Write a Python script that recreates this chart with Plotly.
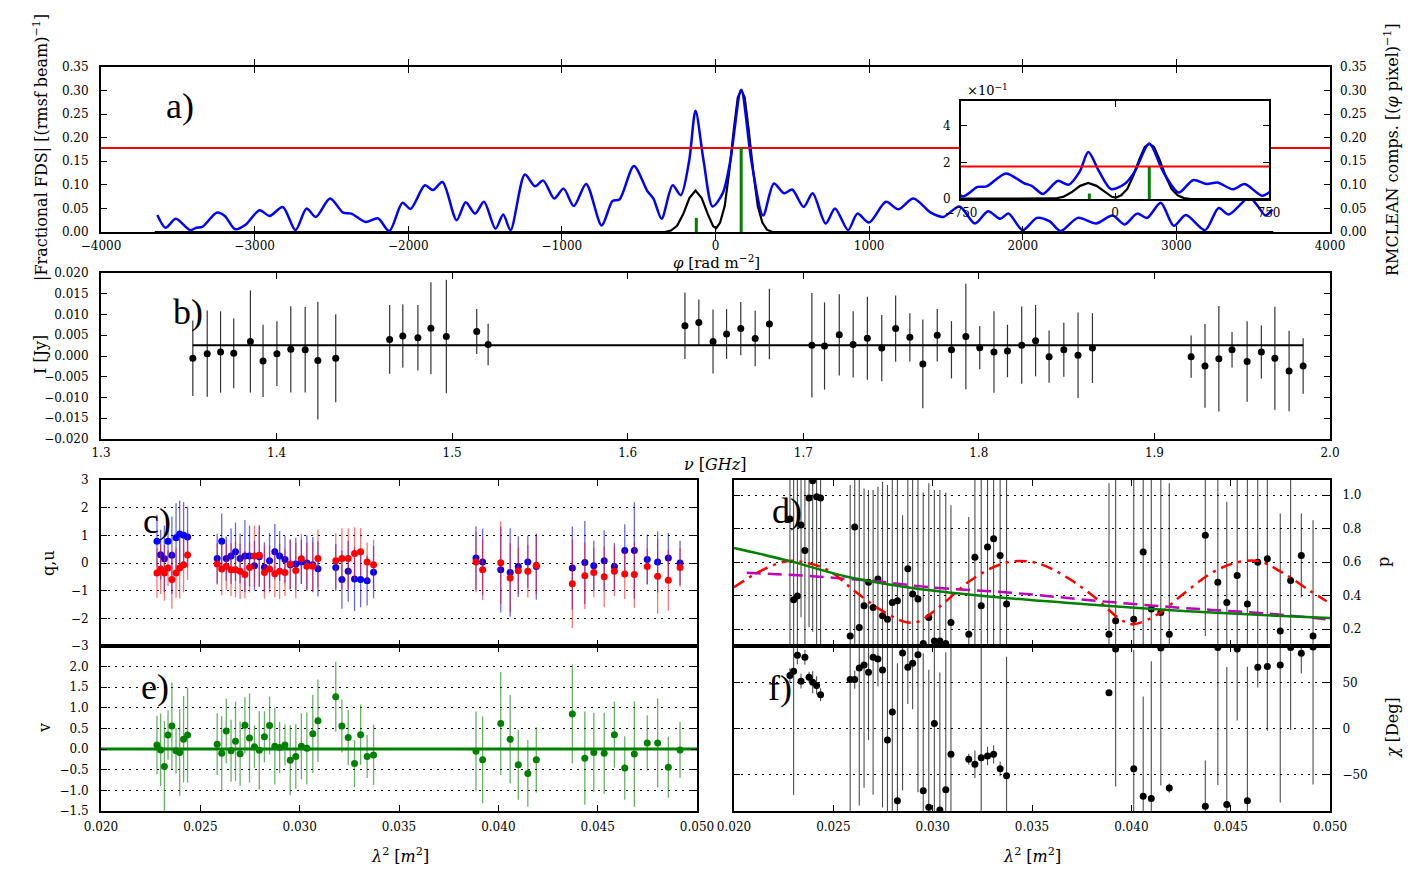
import plotly.graph_objects as go

FONT = "DejaVu Serif"
LETTER_FONT = "Liberation Serif"
# The page shows the figure with an 8 px body margin, so the figure is 8 px
# smaller than the window and all reference pixel positions are shifted by 8.
OFF = 8
W, H = 1419 - OFF, 869 - OFF

# ---------------- a) Faraday dispersion function ----------------
phi_fds = [-3633, -3580, -3513, -3420, -3380, -3340, -3247, -3194, -3128, -3061,
           -2968, -2902, -2817, -2734, -2662, -2602, -2509, -2424, -2370, -2277,
           -2198, -2123, -2038, -1985, -1892, -1839, -1777, -1685, -1626, -1565,
           -1507, -1432, -1382, -1334, -1241, -1175, -1121, -1050, -989, -922,
           -842, -741, -670, -625, -531, -444, -404, -351, -279, -226,
           -172, -130, -77, -19, 48, 96, 167, 234, 310, 380,
           446, 499, 574, 632, 717, 778, 863, 924, 999, 1110,
           1190, 1288, 1402, 1482, 1588, 1689, 1774, 1854, 1907, 2000,
           2093, 2173, 2247, 2359, 2478, 2584, 2664, 2744, 2810, 2898,
           2983, 3062, 3187, 3275, 3341, 3474, 3530, 3580, 3625]
fds_amp = [0.036, 0.009, 0.028, 0.004, 0.009, 0.011, 0.041, 0.034, 0.006, 0.015,
           0.046, 0.034, 0.053, 0.004, 0.050, 0.032, 0.071, 0.041, 0.039, 0.021,
           0.029, 0.002, 0.062, 0.049, 0.099, 0.089, 0.106, 0.025, 0.063, 0.039,
           0.064, 0.007, 0.037, 0.004, 0.122, 0.097, 0.109, 0.071, 0.092, 0.055,
           0.102, 0.014, 0.066, 0.069, 0.140, 0.087, 0.071, 0.028, 0.099, 0.078,
           0.150, 0.257, 0.150, 0.054, 0.083, 0.150, 0.302, 0.150, 0.035, 0.103,
           0.082, 0.090, 0.053, 0.082, 0.018, 0.050, 0.004, 0.039, 0.020, 0.064,
           0.048, 0.071, 0.041, 0.032, 0.054, 0.018, 0.044, 0.028, 0.039, 0.004,
           0.030, 0.023, 0.002, 0.030, 0.018, 0.035, 0.016, 0.039, 0.030, 0.062,
           0.013, 0.036, 0.004, 0.051, 0.037, 0.073, 0.055, 0.035, 0.048]

phi_cln = [-3650, -330, -290, -250, -210, -170, -130, -90, -50, -15, 5, 30, 60, 90,
           120, 145, 167, 190, 215, 245, 275, 305, 335, 370, 3630]
cln_amp = [0.0, 0.0, 0.003, 0.013, 0.038, 0.072, 0.088, 0.072, 0.038, 0.012, 0.008,
           0.020, 0.055, 0.130, 0.220, 0.285, 0.302, 0.285, 0.220, 0.130, 0.055,
           0.020, 0.005, 0.0, 0.0]

comp_phi = [-125, 167]
comp_amp = [0.030, 0.178]
fds_threshold = 0.178

# ---------------- b) Stokes I ----------------
nu_ghz = [1.3523, 1.3605, 1.3681, 1.3756, 1.3851, 1.3923, 1.4002, 1.4081, 1.4163, 1.4235, 1.4337,
          1.4644, 1.4719, 1.4805, 1.4879, 1.4967, 1.5140, 1.5205,
          1.6326, 1.6405, 1.6486, 1.6563, 1.6644, 1.6726, 1.6807,
          1.7049, 1.7121, 1.7205, 1.7284, 1.7365, 1.7447, 1.7526, 1.7607, 1.7681, 1.7763,
          1.7844, 1.7926, 1.8005, 1.8086, 1.8163, 1.8244, 1.8323, 1.8400, 1.8484, 1.8565, 1.8647,
          1.9209, 1.9288, 1.9367, 1.9442, 1.9528, 1.9609, 1.9686, 1.9767, 1.9847]
stokes_i = [-0.00056, 0.00056, 0.00097, 0.00065, 0.0035, -0.0012, 0.00056, 0.0016, 0.0015, -0.0011, -0.00056,
            0.0040, 0.0048, 0.0044, 0.0067, 0.0047, 0.0059, 0.0028,
            0.0073, 0.0081, 0.0035, 0.0053, 0.0066, 0.0042, 0.0077,
            0.0026, 0.0024, 0.0051, 0.0028, 0.0043, 0.0019, 0.0066, 0.0045, -0.0019, 0.0050,
            0.0015, 0.0047, 0.0020, 0.00097, 0.0012, 0.0026, 0.0037, -0.00016, 0.0015, 0.00016, 0.0019,
            -0.00016, -0.0024, -0.00065, 0.0015, -0.0013, 0.00097, -0.00056, -0.0036, -0.0024]
stokes_i_err = [0.0091, 0.0104, 0.0098, 0.0084, 0.0123, 0.0087, 0.0078, 0.0104, 0.0103, 0.0142, 0.0106,
                0.0083, 0.0076, 0.0079, 0.0111, 0.0137, 0.0054, 0.0050,
                0.0080, 0.0055, 0.0077, 0.0060, 0.0064, 0.0067, 0.0085,
                0.0126, 0.0105, 0.0098, 0.0080, 0.0100, 0.0080, 0.0080, 0.0058, 0.0107, 0.0063,
                0.0069, 0.0127, 0.0052, 0.0098, 0.0063, 0.0093, 0.0086, 0.0063, 0.0065, 0.0103, 0.0084,
                0.0051, 0.0101, 0.0127, 0.0043, 0.0097, 0.0064, 0.0124, 0.0097, 0.0067]
i_model = 0.0026

# ---------------- c-f) per channel, ascending lambda^2 ----------------
q_vals = [0.79, 0.30, 0.15, 0.79, 0.28, 0.91, 1.05, 1.00, 0.94,
          0.16, 0.79, 0.16, 0.25, 0.41, 0.16, 0.25, 0.25, -0.10, 0.23, -0.15, 0.08, 0.41, 0.25, 0.13,
          -0.06, -0.04, 0.04, 0.00, -0.06, -0.21,
          -0.16, -0.60, -0.30, -0.58, -0.60, -0.64, -0.33,
          0.18, 0.04, -0.24, -0.34, -0.13, 0.04, -0.13,
          -0.18, 0.02, -0.10, 0.08, -0.13, 0.45, 0.45, 0.13, 0.04, 0.18, 0.00]
q_err = [0.95, 0.9, 1.2, 0.6, 1.4, 1.25, 1.2, 1.2, 1.1,
         0.9, 1.0, 0.8, 1.0, 1.05, 0.9, 1.3, 1.1, 0.9, 1.1, 0.9, 1.0, 1.0, 0.9, 0.85,
         0.9, 0.95, 0.8, 1.0, 1.0, 1.0,
         0.85, 1.05, 1.1, 1.15, 1.0, 0.9, 0.95,
         1.15, 1.2, 1.55, 1.6, 1.1, 0.95, 1.2,
         1.5, 1.5, 0.9, 1.1, 0.85, 0.95, 1.75, 0.9, 1.1, 0.9, 0.8]
u_vals = [-0.36, -0.22, -0.36, -0.18, -0.60, -0.36, -0.18, -0.06, 0.29,
          -0.04, -0.22, -0.12, -0.24, -0.24, -0.30, -0.42, -0.16, 0.25, 0.28, -0.34, -0.22, -0.39, -0.30, -0.34,
          -0.04, -0.27, 0.15, -0.12, -0.12, 0.16,
          0.08, 0.16, 0.16, 0.34, 0.41, 0.04, -0.06,
          0.04, -0.24, 0.01, -0.54, -0.28, -0.30, -0.08,
          -0.75, -0.46, -0.34, -0.50, -0.30, -0.40, -0.42, -0.13, -0.48, -0.62, -0.16]
u_err = [0.9, 0.9, 1.0, 0.65, 1.05, 0.9, 1.1, 1.0, 0.9,
         0.75, 0.95, 0.85, 0.95, 1.0, 1.0, 0.85, 0.9, 1.1, 1.1, 0.95, 0.85, 0.85, 1.0, 0.85,
         0.9, 1.0, 0.9, 0.85, 0.9, 1.05,
         1.0, 1.1, 1.1, 0.95, 0.85, 0.7, 0.9,
         1.1, 1.1, 1.5, 1.25, 0.85, 0.95, 1.05,
         1.6, 1.2, 0.9, 1.1, 0.9, 0.9, 1.2, 0.65, 1.35, 1.1, 0.7]
v_vals = [0.10, -0.02, -0.42, 0.34, 0.56, -0.04, -0.08, 0.24, 0.34,
          0.12, -0.10, 0.44, -0.04, 0.19, -0.11, 0.58, 0.27, 0.06, -0.03, 0.30, 0.57, 0.07, 0.04, 0.10,
          -0.27, -0.18, 0.07, 0.02, 0.37, 0.69,
          1.27, 0.56, 0.28, -0.35, 0.35, -0.18, -0.14,
          -0.05, -0.26, 0.62, 0.24, -0.38, -0.59, -0.26,
          0.85, -0.22, -0.08, -0.10, 0.35, -0.46, -0.12, 0.15, 0.15, -0.44, -0.02]
v_err = [0.71, 0.88, 1.1, 0.6, 1.05, 0.55, 1.05, 1.05, 1.15,
         0.75, 0.9, 0.78, 0.75, 0.96, 0.78, 0.68, 1.08, 0.52, 0.95, 0.62, 0.70, 0.93, 0.62, 0.5,
         0.85, 0.78, 0.8, 0.87, 0.95, 1.0,
         0.85, 0.64, 0.67, 0.57, 0.73, 0.52, 0.73,
         0.96, 1.05, 1.25, 1.07, 0.85, 0.81, 0.79,
         1.2, 1.13, 0.96, 0.98, 0.8, 0.77, 1.28, 0.67, 1.08, 0.74, 0.68]
p_vals = [0.857, 0.376, 0.398, 0.822, 0.669, 0.982, 1.085, 0.990, 0.982,
          0.16, 0.81, 0.21, 0.34, 0.48, 0.33, 0.50, 0.28, 0.26, 0.36, 0.37, 0.08, 0.56, 0.41, 0.38,
          0.115, 0.27, 0.13, 0.13, 0.115, 0.24,
          0.17, 0.63, 0.34, 0.69, 0.74, 0.64, 0.35,
          0.17, 0.25, 0.26, 0.66, 0.32, 0.30, 0.17,
          0.76, 0.48, 0.36, 0.52, 0.35, 0.60, 0.62, 0.19, 0.49, 0.64, 0.16]
p_err = [0.9, 0.8, 0.8, 0.55, 0.6, 0.77, 0.9, 0.95, 0.95,
         0.9, 0.8, 0.9, 0.7, 0.55, 0.7, 0.55, 0.8, 0.8, 0.8, 0.8, 0.8, 0.55, 0.7, 0.8,
         0.9, 0.8, 0.9, 0.9, 0.9, 0.7,
         0.7, 0.8, 0.8, 0.8, 0.8, 0.8, 0.8,
         0.9, 0.9, 0.9, 0.7, 0.8, 0.8, 0.9,
         0.6, 0.7, 0.6, 0.7, 0.8, 0.7, 0.7, 0.7, 0.7, 0.25, 0.69]
chi_vals = [57.8, 62.5, 80.0, 51.6, 77.6, 56.0, 50.5, 47.0, 36.8,
            53.4, 53.4, 66.0, 69.3, 61.4, 77.6, 75.8, 63.9, -12.6, 18.0, -78.7, 82.3, 66.8, 71.1, 80.5,
            -67.9, -86.0, 5.4, -89.0, -66.8, -28.0,
            -33.6, -39.0, -31.8, -30.0, -28.2, -44.0, -51.6,
            39.0, 86.6, -44.0, -74.0, -76.5, 87.7, -65.0,
            -84.8, 88.4, -83.0, 86.6, -78.7, 66.8, 67.5, 69.3, 88.4, 82.0, 89.0]
chi_err = [8, 135, 10, 8, 8, 6, 12, 10, 7,
           150, 10, 150, 134, 74, 150, 30, 150, 150, 150, 150, 150, 40, 50, 150,
           150, 150, 150, 150, 150, 150,
           6, 15, 150, 10, 10, 8, 130,
           3, 150, 130, 109, 150, 150, 5,
           50, 150, 150, 78, 146, 22, 70, 150, 90, 22, 150]

# model curves in panel d
lam2_green = [0.0200, 0.02282, 0.02563, 0.02987, 0.03412, 0.03837, 0.04261, 0.04686, 0.0500]
p_green = [0.685, 0.606, 0.515, 0.432, 0.382, 0.343, 0.309, 0.283, 0.267]
lam2_magenta = [0.02064, 0.02413, 0.02563, 0.02711, 0.02987, 0.03412, 0.03837, 0.04261, 0.04686, 0.0500]
p_magenta = [0.537, 0.515, 0.500, 0.487, 0.450, 0.416, 0.368, 0.327, 0.293, 0.257]
lam2_red = [0.02000, 0.02138, 0.02265, 0.02350, 0.02478, 0.02605, 0.02732, 0.02860, 0.02924,
            0.03030, 0.03178, 0.03306, 0.03412, 0.03539, 0.03688, 0.03837, 0.03932, 0.04006,
            0.04134, 0.04261, 0.04410, 0.04537, 0.04643, 0.04771, 0.04898, 0.04983]
p_red = [0.45, 0.55, 0.606, 0.60, 0.55, 0.43, 0.32, 0.244, 0.244,
         0.33, 0.48, 0.57, 0.606, 0.59, 0.50, 0.37, 0.27, 0.23,
         0.29, 0.41, 0.54, 0.60, 0.606, 0.53, 0.43, 0.367]

C_LIGHT = 0.299792458  # GHz * m
lam2 = sorted((C_LIGHT / f) ** 2 for f in nu_ghz)

# ---------------- layout geometry (reference pixels) ----------------
PA = (101, 1330, 67, 232)
PINS = (961, 1269, 101, 199)
PB = (101, 1330, 273, 439)
PC = (101, 697, 480, 646)
PE = (101, 697, 646, 811)
PD = (734, 1330, 480, 646)
PF = (734, 1330, 646, 811)


def fx(px):
    return (px - OFF) / W


def fy(py):
    return 1 - (py - OFF) / H


def dx(p):
    return [fx(p[0]), fx(p[1])]


def dy(p):
    return [fy(p[3]), fy(p[2])]


BLUE = "#0000ff"
RED = "#ff0000"
GREEN = "#008000"
MAG = "#bf00bf"

fig = go.Figure()

# ----- a) main + inset -----
phi_lo, phi_hi = -4000, 4000
ins_lo = phi_lo + (PINS[0] - PA[0]) / (PA[1] - PA[0]) * (phi_hi - phi_lo)
ins_hi = phi_lo + (PINS[1] - PA[0]) / (PA[1] - PA[0]) * (phi_hi - phi_lo)


def stems(xs, ys):
    sx, sy = [], []
    for x, y in zip(xs, ys):
        sx += [x, x, None]
        sy += [0, y, None]
    return sx, sy


cx, cy = stems(comp_phi, comp_amp)

for ax, ay, ay_comp, redx in [("x", "y", "y2", [phi_lo, ins_lo, None, ins_hi, phi_hi]),
                              ("x3", "y3", "y3", [-750, 750])]:
    redy = [fds_threshold if v is not None else None for v in redx]
    fig.add_trace(go.Scatter(x=phi_cln, y=cln_amp, mode="lines", xaxis=ax, yaxis=ay,
                             line=dict(color="black", width=2.2), showlegend=False))
    fig.add_trace(go.Scatter(x=cx, y=cy, mode="lines", xaxis=ax, yaxis=ay_comp,
                             line=dict(color=GREEN, width=3), showlegend=False))
    fig.add_trace(go.Scatter(x=phi_fds, y=fds_amp, mode="lines", xaxis=ax, yaxis=ay,
                             line=dict(color=BLUE, width=2.5, shape="spline", smoothing=0.8),
                             showlegend=False))
    fig.add_trace(go.Scatter(x=redx, y=redy, mode="lines", xaxis=ax, yaxis=ay,
                             line=dict(color=RED, width=2), showlegend=False))

# ----- b) -----
fig.add_trace(go.Scatter(x=[min(nu_ghz), max(nu_ghz)], y=[i_model, i_model], mode="lines",
                         xaxis="x4", yaxis="y4", line=dict(color="black", width=2), showlegend=False))
fig.add_trace(go.Scatter(x=nu_ghz, y=stokes_i, mode="markers", xaxis="x4", yaxis="y4",
                         marker=dict(color="black", size=7),
                         error_y=dict(type="data", array=stokes_i_err, thickness=1.2, width=0,
                                      color="rgba(0,0,0,0.8)"),
                         showlegend=False))

# ----- c) -----
fig.add_trace(go.Scatter(x=lam2, y=q_vals, mode="markers", xaxis="x5", yaxis="y5",
                         marker=dict(color=BLUE, size=7),
                         error_y=dict(type="data", array=q_err, thickness=1.3, width=0,
                                      color="rgba(0,0,255,0.6)"),
                         showlegend=False))
fig.add_trace(go.Scatter(x=lam2, y=u_vals, mode="markers", xaxis="x5", yaxis="y5",
                         marker=dict(color=RED, size=7),
                         error_y=dict(type="data", array=u_err, thickness=1.3, width=0,
                                      color="rgba(255,0,0,0.55)"),
                         showlegend=False))

# ----- e) -----
fig.add_trace(go.Scatter(x=lam2, y=v_vals, mode="markers", xaxis="x6", yaxis="y6",
                         marker=dict(color=GREEN, size=7),
                         error_y=dict(type="data", array=v_err, thickness=1.3, width=0,
                                      color="rgba(0,128,0,0.6)"),
                         showlegend=False))
fig.add_trace(go.Scatter(x=[0.02, 0.05], y=[0, 0], mode="lines", xaxis="x6", yaxis="y6",
                         line=dict(color=GREEN, width=3), showlegend=False))

# ----- d) -----
fig.add_trace(go.Scatter(x=lam2, y=p_vals, mode="markers", xaxis="x7", yaxis="y7",
                         marker=dict(color="black", size=7),
                         error_y=dict(type="data", array=p_err, thickness=1.1, width=0,
                                      color="rgba(0,0,0,0.7)"),
                         showlegend=False))
fig.add_trace(go.Scatter(x=lam2_magenta, y=p_magenta, mode="lines", xaxis="x7", yaxis="y7",
                         line=dict(color=MAG, width=2.5, dash="14px,7px", shape="spline"),
                         showlegend=False))
fig.add_trace(go.Scatter(x=lam2_red, y=p_red, mode="lines", xaxis="x7", yaxis="y7",
                         line=dict(color=RED, width=2.5, dash="12px,6px,3px,6px", shape="spline"),
                         showlegend=False))
fig.add_trace(go.Scatter(x=lam2_green, y=p_green, mode="lines", xaxis="x7", yaxis="y7",
                         line=dict(color=GREEN, width=2.5, shape="spline"), showlegend=False))

# ----- f) -----
fig.add_trace(go.Scatter(x=lam2, y=chi_vals, mode="markers", xaxis="x8", yaxis="y8",
                         marker=dict(color="black", size=7),
                         error_y=dict(type="data", array=chi_err, thickness=1.1, width=0,
                                      color="rgba(0,0,0,0.7)"),
                         showlegend=False))

# ---------------- axes ----------------
TF = dict(family=FONT, size=12, color="black")


def axis(**kw):
    d = dict(showline=True, linecolor="black", linewidth=2, mirror="allticks",
             ticks="inside", ticklen=6, tickwidth=1.2, tickcolor="black",
             showgrid=False, zeroline=False, tickfont=TF, fixedrange=True,
             automargin=False, ticklabelstandoff=4)
    d.update(kw)
    return d


GRID = dict(showgrid=True, gridcolor="black", griddash="2px,5px", gridwidth=1)
lam_ticks = [0.020, 0.025, 0.030, 0.035, 0.040, 0.045, 0.050]
a_ticks = [0, 0.05, 0.10, 0.15, 0.20, 0.25, 0.30, 0.35]

fig.update_layout(
    width=W, height=H, autosize=False,
    margin=dict(l=0, r=0, t=0, b=0, pad=0, autoexpand=False),
    paper_bgcolor="white", plot_bgcolor="white",
    font=dict(family=FONT, color="black"),
    xaxis=axis(domain=dx(PA), range=[phi_lo, phi_hi], tickmode="array",
               tickvals=list(range(-4000, 4001, 1000)), anchor="y", ticklabelstandoff=2),
    yaxis=axis(domain=dy(PA), range=[0, 0.35], tickmode="array",
               tickvals=a_ticks, tickformat=".2f", anchor="x", ticklabelstandoff=8),
    yaxis2=dict(overlaying="y", side="right", range=[0, 0.35], tickmode="array",
                tickvals=a_ticks, tickformat=".2f",
                showline=False, ticks="", showgrid=False, zeroline=False, tickfont=TF,
                anchor="x", fixedrange=True, automargin=False, ticklabelstandoff=9),
    xaxis3=axis(domain=dx(PINS), range=[-750, 750], tickmode="array",
                tickvals=[-750, 0, 750], anchor="y3", ticklabelstandoff=2),
    yaxis3=axis(domain=dy(PINS), range=[0, 0.536], tickmode="array",
                tickvals=[0, 0.2, 0.4], ticktext=["0", "2", "4"], anchor="x3",
                ticklabelstandoff=6),
    xaxis4=axis(domain=dx(PB), range=[1.3, 2.0], tickmode="array",
                tickvals=[1.3, 1.4, 1.5, 1.6, 1.7, 1.8, 1.9, 2.0], tickformat=".1f",
                anchor="y4", ticklabelstandoff=2),
    yaxis4=axis(domain=dy(PB), range=[-0.02, 0.02], tickmode="array",
                tickvals=[-0.02, -0.015, -0.01, -0.005, 0, 0.005, 0.01, 0.015, 0.02],
                tickformat=".3f", anchor="x4", ticklabelstandoff=8),
    xaxis5=axis(domain=dx(PC), range=[0.02, 0.05], tickmode="array", tickvals=lam_ticks,
                showticklabels=False, anchor="y5"),
    yaxis5=axis(domain=dy(PC), range=[-3, 3], tickmode="array",
                tickvals=[-3, -2, -1, 0, 1, 2, 3], anchor="x5", ticklabelstandoff=8, **GRID),
    xaxis6=axis(domain=dx(PE), range=[0.02, 0.05], tickmode="array", tickvals=lam_ticks,
                tickformat=".3f", anchor="y6", ticklabelstandoff=4),
    yaxis6=axis(domain=dy(PE), range=[-1.5, 2.5], tickmode="array",
                tickvals=[-1.5, -1.0, -0.5, 0.0, 0.5, 1.0, 1.5, 2.0], tickformat=".1f",
                anchor="x6", ticklabelstandoff=8, **GRID),
    xaxis7=axis(domain=dx(PD), range=[0.02, 0.05], tickmode="array", tickvals=lam_ticks,
                showticklabels=False, anchor="y7"),
    yaxis7=axis(domain=dy(PD), range=[0.1, 1.09], tickmode="array",
                tickvals=[0.2, 0.4, 0.6, 0.8, 1.0], tickformat=".1f", side="right",
                anchor="x7", ticklabelstandoff=8, **GRID),
    xaxis8=axis(domain=dx(PF), range=[0.02, 0.05], tickmode="array", tickvals=lam_ticks,
                tickformat=".3f", anchor="y8", ticklabelstandoff=4),
    yaxis8=axis(domain=dy(PF), range=[-90, 90], tickmode="array",
                tickvals=[-50, 0, 50], side="right", anchor="x8", ticklabelstandoff=8, **GRID),
)


# ---------------- text ----------------
def ann(text, x, y, size=15, angle=0, family=FONT):
    fig.add_annotation(text=text, x=fx(x), y=fy(y), xref="paper", yref="paper",
                       showarrow=False, textangle=angle, xanchor="center", yanchor="middle",
                       font=dict(family=family, size=size, color="black"))


ann("|Fractional FDS| [(rmsf beam)<sup>−1</sup>]", 40, 148, 16, -90)
ann("RMCLEAN comps. [(<i>φ</i> pixel)<sup>−1</sup>]", 1392, 150, 16, -90)
ann("<i>φ</i> [rad m<sup>−2</sup>]", 716, 262, 15)
ann("×10<sup>−1</sup>", 987, 90, 13)
ann("I [Jy]", 40, 355, 16, -90)
ann("<i>ν</i> [<i>GHz</i>]", 715, 464, 16)
ann("q,u", 48, 563, 16, -90)
ann("v", 44, 728, 16, -90)
ann("<i>λ</i><sup>2</sup> [<i>m</i><sup>2</sup>]", 400, 855, 16)
ann("<i>λ</i><sup>2</sup> [<i>m</i><sup>2</sup>]", 1032, 855, 16)
ann("p", 1383, 562, 16, -90)
ann("<i>χ</i> [Deg]", 1392, 728, 16, -90)

ann("a)", 180, 106, 36, 0, LETTER_FONT)
ann("b)", 188, 312, 36, 0, LETTER_FONT)
ann("c)", 157, 521, 36, 0, LETTER_FONT)
ann("d)", 787, 511, 36, 0, LETTER_FONT)
ann("e)", 155, 687, 36, 0, LETTER_FONT)
ann("f)", 780, 688, 36, 0, LETTER_FONT)

fig.write_html("out.html")
